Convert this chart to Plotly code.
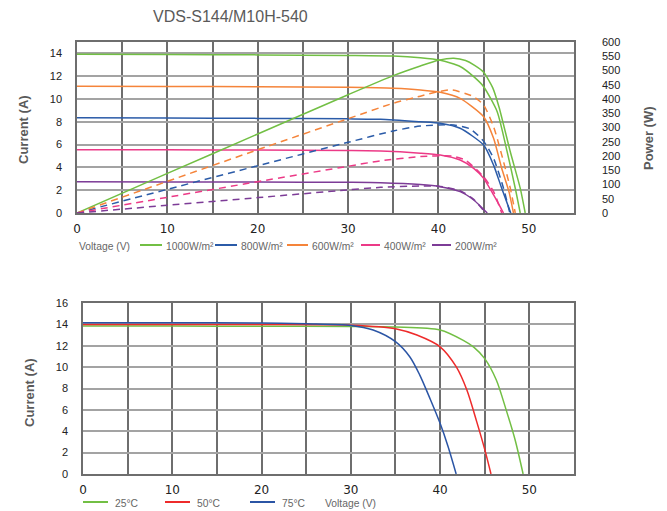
import plotly.graph_objects as go

W, H = 667, 511

# ---------------- Top chart: I-V (solid) and P-V (dashed) by irradiance ----------------
irr_labels = ["1000W/m²", "800W/m²", "600W/m²", "400W/m²", "200W/m²"]
irr_colors = ["#72bf44", "#2b5ba8", "#f5843a", "#ec3a87", "#7d3c97"]
pv_dash = ["solid", "7px,5px", "7px,5px", "7px,5px", "7px,5px"]

# I-V curves (voltage V, current A)
iv_v_1000 = [0, 10, 20, 30, 35, 38, 40.2, 42.4, 43.9, 45, 46.5, 47.6, 48.5, 49.05]
iv_i_1000 = [13.92, 13.9, 13.87, 13.82, 13.77, 13.62, 13.4, 12.85, 11.96, 11.08, 8.89, 5.38, 2.17, 0]

iv_v_800 = [0, 10, 20, 30, 33.6, 38, 40.2, 42.4, 45, 46.1, 47.0, 48.0]
iv_i_800 = [8.35, 8.33, 8.3, 8.26, 8.22, 8.0, 7.87, 7.43, 5.96, 4.2, 2.17, 0]

iv_v_600 = [0, 10, 20, 30, 35, 38, 40.2, 42.4, 45, 46.1, 47.0, 47.8, 48.3]
iv_i_600 = [11.12, 11.1, 11.08, 11.02, 10.94, 10.8, 10.59, 10.06, 8.45, 6.55, 3.92, 1.87, 0]

iv_v_400 = [0, 10, 20, 30, 33.6, 38, 40.2, 42.4, 43.9, 45, 46.1, 47.2]
iv_i_400 = [5.55, 5.54, 5.52, 5.48, 5.44, 5.25, 5.09, 4.65, 3.92, 3.04, 1.58, 0]

iv_v_200 = [0, 10, 20, 30, 33.6, 38, 40.2, 42.4, 43.9, 45.4]
iv_i_200 = [2.74, 2.73, 2.72, 2.69, 2.66, 2.5, 2.31, 1.87, 1.14, 0]

# P-V curves (voltage V, power W)
pv_v_1000 = [0, 10, 20, 30, 35, 38, 40, 41.7, 43, 44, 45, 46, 46.7, 47.95, 49.05, 49.6]
pv_p_1000 = [0, 139, 277, 415, 482, 516, 536, 543, 535, 518, 494, 440, 372, 215, 87, 0]

pv_v_800 = [0, 10, 20, 30, 35, 38, 41.7, 43.5, 45, 46.1, 47.2, 47.9]
pv_p_800 = [0, 83, 166, 248, 288, 305, 309, 295, 252, 192, 87, 0]

pv_v_600 = [0, 10, 20, 30, 35, 38, 40, 41.5, 43.9, 45, 46.1, 47.0, 47.95, 48.5]
pv_p_600 = [0, 111, 222, 331, 385, 410, 426, 432, 408, 379, 303, 204, 87, 0]

pv_v_400 = [0, 10, 20, 30, 33.6, 38, 41.5, 43, 45, 46.1, 47.0]
pv_p_400 = [0, 55, 110, 164, 183, 198, 200, 185, 127, 75, 0]

pv_v_200 = [0, 10, 20, 30, 33.6, 38, 40, 42.4, 43.9, 45.2]
pv_p_200 = [0, 27, 54, 81, 90, 95, 94, 78, 48, 0]

iv_v = [iv_v_1000, iv_v_800, iv_v_600, iv_v_400, iv_v_200]
iv_i = [iv_i_1000, iv_i_800, iv_i_600, iv_i_400, iv_i_200]
pv_v = [pv_v_1000, pv_v_800, pv_v_600, pv_v_400, pv_v_200]
pv_p = [pv_p_1000, pv_p_800, pv_p_600, pv_p_400, pv_p_200]

# ---------------- Bottom chart: I-V by temperature ----------------
temp_labels = ["25°C", "50°C", "75°C"]
temp_colors = ["#72bf44", "#ee2b2b", "#2b55a5"]

t_v_25 = [0, 10, 20, 30, 35, 40, 42.6, 43.8, 45, 46.3, 47.4, 48.4, 49.3]
t_i_25 = [13.85, 13.84, 13.83, 13.8, 13.75, 13.47, 12.5, 11.85, 10.8, 8.8, 6.0, 3.2, 0]

t_v_50 = [0, 10, 20, 30, 35, 37.4, 40, 41.8, 43, 44.1, 45, 45.7]
t_i_50 = [14.0, 14.0, 13.98, 13.92, 13.6, 13.0, 11.9, 10.04, 7.86, 4.9, 2.3, 0]

t_v_75 = [0, 10, 20, 25, 30, 32.5, 35, 36.6, 37.7, 38.9, 40, 40.9, 41.8]
t_i_75 = [14.15, 14.15, 14.12, 14.05, 13.9, 13.47, 12.38, 10.97, 9.3, 7.0, 4.74, 2.55, 0]

t_v = [t_v_25, t_v_50, t_v_75]
t_i = [t_i_25, t_i_50, t_i_75]

# ---------------- Figure ----------------
fig = go.Figure()

for k in range(5):
    fig.add_trace(go.Scatter(x=pv_v[k], y=pv_p[k], mode="lines", xaxis="x", yaxis="y2",
                             line=dict(color=irr_colors[k], width=1.5, dash=pv_dash[k],
                                       shape="spline", smoothing=0.6),
                             showlegend=False, name=irr_labels[k] + " P"))
for k in range(5):
    fig.add_trace(go.Scatter(x=iv_v[k], y=iv_i[k], mode="lines", xaxis="x", yaxis="y",
                             line=dict(color=irr_colors[k], width=1.5, shape="spline", smoothing=0.6),
                             showlegend=False, name=irr_labels[k]))
for k in range(3):
    fig.add_trace(go.Scatter(x=t_v[k], y=t_i[k], mode="lines", xaxis="x2", yaxis="y3",
                             line=dict(color=temp_colors[k], width=1.5, shape="spline", smoothing=0.8),
                             showlegend=False, name=temp_labels[k]))

VGRID = "#6e6e6e"
HGRID = "#a3a3a3"
TICKFONT = dict(family="Liberation Sans, Arial, sans-serif", size=11, color="#222222")
XTICKFONT = dict(family="DejaVu Sans, sans-serif", size=12, color="#222222")
TEXTGRAY = "#5a5a5a"


def xax(domain, anchor):
    return dict(domain=domain, anchor=anchor, range=[0, 55], tick0=0, dtick=10,
                showgrid=True, gridcolor=VGRID, gridwidth=1.5,
                minor=dict(dtick=5, showgrid=True, gridcolor=VGRID, gridwidth=1.5),
                showline=True, linecolor=VGRID, linewidth=1.5, mirror=True,
                zeroline=False, ticks="", tickfont=XTICKFONT, ticklabelstandoff=4,
                automargin=False, fixedrange=True)


def yax(domain, anchor, rng):
    return dict(domain=domain, anchor=anchor, range=rng, tick0=0, dtick=2,
                showgrid=True, gridcolor=HGRID, gridwidth=2,
                showline=True, linecolor=VGRID, linewidth=1.5, mirror=True,
                zeroline=False, ticks="", tickfont=TICKFONT, ticklabelstandoff=11,
                automargin=False, fixedrange=True)


top_y = [1 - 213 / H, 1 - 42 / H]
bot_y = [1 - 474 / H, 1 - 303 / H]

fig.update_layout(
    width=W, height=H, autosize=False, template="none",
    margin=dict(l=0, r=0, t=0, b=0, pad=0),
    paper_bgcolor="white", plot_bgcolor="white",
    showlegend=False,
    xaxis=xax([77 / W, 574 / W], "y"),
    yaxis=yax(top_y, "x", [0, 15]),
    yaxis2=dict(overlaying="y", anchor="x", side="right", range=[0, 600], tick0=0, dtick=50,
                showgrid=False, showline=False, zeroline=False, ticks="", tickfont=TICKFONT,
                ticklabelstandoff=27, automargin=False, fixedrange=True),
    xaxis2=xax([83 / W, 574 / W], "y3"),
    yaxis3=yax(bot_y, "x2", [0, 16]),
)


def px(x):
    return x / W


def py(y):
    return 1 - y / H


def note(text, x, y, font, xanchor="left", angle=0):
    return dict(text=text, x=px(x), y=py(y), xref="paper", yref="paper", showarrow=False,
                xanchor=xanchor, yanchor="middle", textangle=angle, font=font)


BOLD = dict(family="Liberation Sans, Arial, sans-serif", size=13, color=TEXTGRAY)
annotations = [
    note("VDS-S144/M10H-540", 230, 16,
         dict(family="Liberation Sans, Arial, sans-serif", size=16, color=TEXTGRAY), "center"),
    note("<b>Current (A)</b>", 23, 130, BOLD, "center", -90),
    note("<b>Power (W)</b>", 648, 138, BOLD, "center", -90),
    note("<b>Current (A)</b>", 29, 393, BOLD, "center", -90),
]

LEGFONT = dict(family="Liberation Sans, Arial, sans-serif", size=10.3, color="#666666")

shapes = []
# top legend
annotations.append(note("Voltage (V)", 77, 246, LEGFONT))
top_leg_x = [140, 215, 287, 361, 432]
top_leg_len = [22, 22, 21, 19, 19]
for k in range(5):
    x0 = top_leg_x[k]
    shapes.append(dict(type="line", xref="paper", yref="paper", x0=px(x0), x1=px(x0 + top_leg_len[k]),
                       y0=py(245), y1=py(245), line=dict(color=irr_colors[k], width=2)))
    annotations.append(note(irr_labels[k], x0 + top_leg_len[k] + 2, 246, LEGFONT))
# bottom legend
bot_leg_x = [83, 165, 250]
for k in range(3):
    x0 = bot_leg_x[k]
    shapes.append(dict(type="line", xref="paper", yref="paper", x0=px(x0), x1=px(x0 + 25),
                       y0=py(502), y1=py(502), line=dict(color=temp_colors[k], width=2)))
    annotations.append(note(temp_labels[k], x0 + 30, 503, LEGFONT))
annotations.append(note("Voltage (V)", 323, 503, LEGFONT))

fig.update_layout(annotations=annotations, shapes=shapes)

fig.write_html("out.html", config={"displayModeBar": False},
               post_script="document.body.style.margin='0';document.body.style.padding='0';")
